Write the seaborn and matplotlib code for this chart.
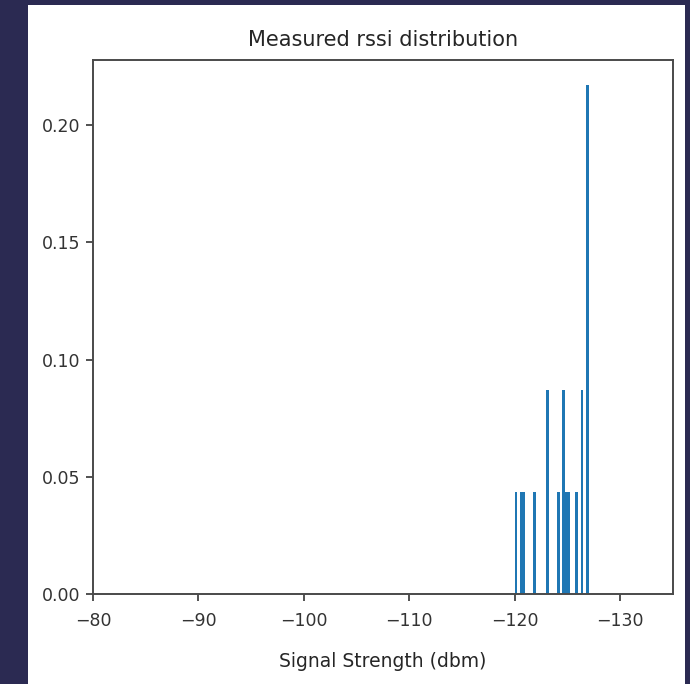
import numpy as np
import pandas as pd
import seaborn as sns
import matplotlib.pyplot as plt
from matplotlib.patches import Rectangle

# measured rssi readings (dbm) and the share of samples at each one
rssi = [-120.1, -120.6, -120.85, -121.9, -123.1, -124.1,
        -124.6, -124.85, -125.1, -125.9, -126.4, -126.9]
share = [0.0435, 0.0435, 0.0435, 0.0435, 0.087, 0.0435,
         0.087, 0.0435, 0.0435, 0.0435, 0.087, 0.217]

x_ticks = [-80, -90, -100, -110, -120, -130]

df = pd.DataFrame({"rssi": rssi, "share": share})

sns.set_style("ticks")
plt.rcParams["font.family"] = ["DejaVu Sans"]
plt.rcParams["text.color"] = "#262626"

fig = plt.figure(figsize=(6.9, 6.84), dpi=100, facecolor="#2b2a52")
# white card behind the plot
fig.patches.append(Rectangle((28 / 690, 0), 657 / 690, 679 / 684,
                             transform=fig.transFigure, facecolor="white",
                             edgecolor="none", zorder=-10))

ax = fig.add_axes([93 / 690, 90 / 684, 580 / 690, 534 / 684])
sns.histplot(data=df, x="rssi", weights="share", binwidth=0.25,
             binrange=(-127.25, -120.0), stat="count", color="#1f77b4",
             alpha=1, linewidth=0, ax=ax)

ax.set_xlim(-80, -135)
ax.set_xticks(x_ticks)
ax.set_yticks([0, 0.05, 0.10, 0.15, 0.20])
ax.yaxis.set_major_formatter(plt.FormatStrFormatter("%.2f"))
ax.tick_params(labelsize=12.5, length=5, width=1.2, colors="#333333")
ax.tick_params(axis="x", pad=8)
ax.tick_params(axis="y", pad=4)

ax.set_title("Measured rssi distribution", fontsize=15, pad=10)
ax.set_xlabel("Signal Strength (dbm)", fontsize=13.5, labelpad=16)
ax.set_ylabel("")

for s in ax.spines.values():
    s.set_color("#4a4a4a")
    s.set_linewidth(1.4)

fig.savefig("out.png", dpi=100, facecolor=fig.get_facecolor())
